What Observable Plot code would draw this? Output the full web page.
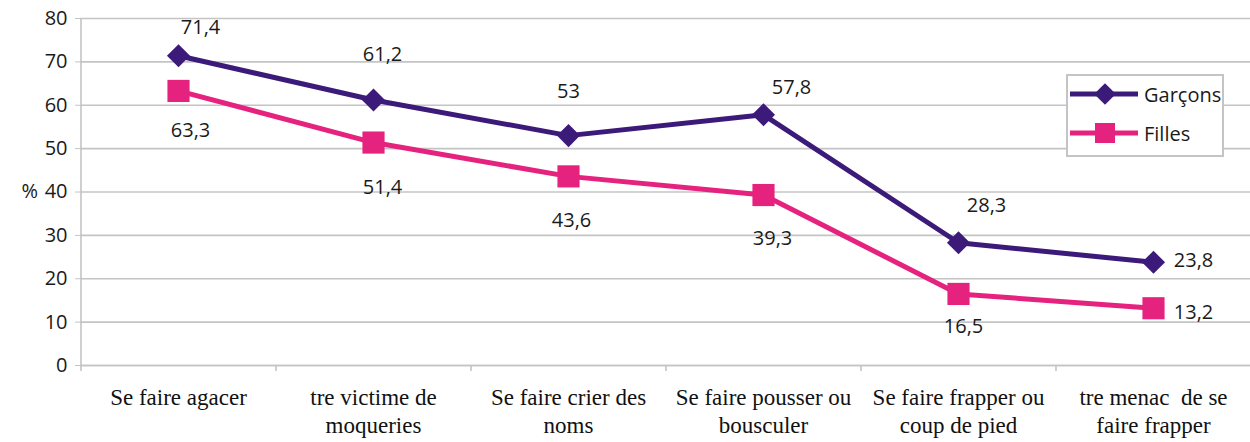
<!DOCTYPE html>
<html>
<head>
<meta charset="utf-8">
<script src="https://cdn.jsdelivr.net/npm/d3@7"></script>
<script src="https://cdn.jsdelivr.net/npm/@observablehq/plot@0.6"></script>
<style>
  html, body { margin: 0; padding: 0; background: #fff; }
  #wrap { position: relative; width: 1250px; height: 442px; }
  #legend {
    position: absolute; left: 1066px; top: 74px; width: 154px; height: 79px;
    border: 2px solid #c4c4c4; background: #fff;
    font-family: "Open Sans", sans-serif; font-size: 20px; color: #1a1a1a;
  }
  .lg-row { position: absolute; left: 2px; display: flex; align-items: center; }
  .lg-row span { margin-left: 6px; }
</style>
</head>
<body>
<div id="wrap"><div id="legend"></div></div>
<script>
// ---- data ----
const categories = ["agacer", "moqueries", "crier", "pousser", "frapper", "menace"];
const xTickLabels = [
  "Se faire agacer",
  "tre victime de\nmoqueries",
  "Se faire crier des\nnoms",
  "Se faire pousser ou\nbousculer",
  "Se faire frapper ou\ncoup de pied",
  "tre menac\u00a0 de se\nfaire frapper"
];
const seriesNames = ["Garçons", "Filles"];
const garcons = [71.4, 61.2, 53, 57.8, 28.3, 23.8];
const filles = [63.3, 51.4, 43.6, 39.3, 16.5, 13.2];
const yTicks = [0, 10, 20, 30, 40, 50, 60, 70, 80];

// ---- styling / layout (not data) ----
const colors = ["#3c1a7a", "#e5237f"];
const symbols = ["diamond2", "square"];
const labelNudgeG = [[22, -28], [9, -45], [0, -44], [28, -27], [28, -37], [40, -2]];
const labelNudgeF = [[12, 40], [9, 45], [3, 44], [9, 44], [5, 33], [40, 4]];

const W = 1250, H = 442, mL = 80, mR = 0, mT = 18, mB = 77;
const halfStep = (W - mL - mR) / categories.length / 2;
const fmt = v => String(v).replace(".", ",");
const tickLabelOf = new Map(categories.map((c, i) => [c, xTickLabels[i]]));

const rows = [
  ...categories.map((c, i) => ({cat: c, value: garcons[i], series: seriesNames[0], nudge: labelNudgeG[i]})),
  ...categories.map((c, i) => ({cat: c, value: filles[i], series: seriesNames[1], nudge: labelNudgeF[i]}))
];
const gRows = rows.filter(d => d.series === seriesNames[0]);
const fRows = rows.filter(d => d.series === seriesNames[1]);
const gridGray = "#c4c4c4";
const numFont = "Open Sans";

const chart = Plot.plot({
  width: W, height: H,
  marginLeft: mL, marginRight: mR, marginTop: mT, marginBottom: mB,
  style: {background: "#fff"},
  x: {type: "point", domain: categories, padding: 0.5},
  y: {domain: [0, 80]},
  color: {domain: seriesNames, range: colors},
  marks: [
    Plot.gridY(yTicks, {stroke: gridGray, strokeOpacity: 1, strokeWidth: 1.6}),
    Plot.ruleY([0], {stroke: gridGray, strokeWidth: 1.6}),
    Plot.ruleX([categories[0]], {x: d => d, dx: -halfStep, y1: 80, y2: 0, insetBottom: -6, stroke: gridGray, strokeWidth: 1.6}),
    Plot.ruleX(categories.slice(1), {x: d => d, dx: -halfStep, y1: 0, y2: 0, insetBottom: -6, stroke: gridGray, strokeWidth: 1.6}),
    Plot.axisY({ticks: yTicks, tickSize: 5, tickPadding: 8, label: null, fontSize: 20, fontFamily: numFont, stroke: gridGray, fill: "#1a1a1a"}),
    Plot.text(["%"], {frameAnchor: "left", dx: -59, text: d => d, fontSize: 20, fontFamily: numFont, fill: "#1a1a1a"}),
    Plot.axisX({tickSize: 0, tickPadding: 20, label: null, fontSize: 23, fontFamily: "Liberation Serif", lineHeight: 1.2, fill: "#111", tickFormat: d => tickLabelOf.get(d)}),
    Plot.line(rows, {x: "cat", y: "value", z: "series", stroke: "series", strokeWidth: 5}),
    Plot.dot(gRows, {x: "cat", y: "value", symbol: () => symbols[0], fill: colors[0], r: 10.4}),
    Plot.dot(fRows, {x: "cat", y: "value", symbol: () => symbols[1], fill: colors[1], r: 12.5}),
    ...rows.map(d => Plot.text([d], {x: "cat", y: "value", text: r => fmt(r.value), dx: d.nudge[0], dy: d.nudge[1], fontSize: 20, fontFamily: numFont, fill: "#1a1a1a"}))
  ]
});
document.getElementById("wrap").prepend(chart);
chart.style.display = "block";

// legend
const legend = d3.select("#legend");
seriesNames.forEach((name, i) => {
  const row = legend.append("div").attr("class", "lg-row").style("top", (i === 0 ? 3 : 42) + "px");
  const svg = row.append("svg").attr("width", 68).attr("height", 30);
  svg.append("line").attr("x1", 0).attr("x2", 68).attr("y1", 15).attr("y2", 15)
    .attr("stroke", colors[i]).attr("stroke-width", 5);
  svg.append("path").attr("transform", "translate(35,15)")
    .attr("d", d3.symbol(i === 0 ? d3.symbolDiamond2 : d3.symbolSquare, i === 0 ? 300 : 400)())
    .attr("fill", colors[i]);
  row.append("span").text(name);
});
</script>
</body>
</html>
